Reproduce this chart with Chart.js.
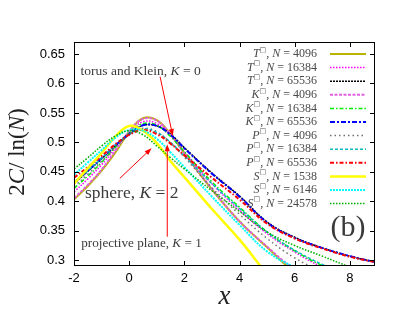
<!DOCTYPE html>
<html>
<head>
<meta charset="utf-8">
<script src="https://cdn.jsdelivr.net/npm/chart.js@4.4.1/dist/chart.umd.min.js"></script>
<style>
  html, body { margin: 0; padding: 0; background: #fff; }
  canvas { display: block; }
</style>
</head>
<body>
<canvas id="chart" width="407" height="310"></canvas>
<script>
// --- Data ---
const xValues = [-2, -1.5, -1, -0.5, 0, 0.5, 1, 1.5, 2, 3, 4, 5, 6, 7, 8, 9];
const xTicks = [-2, 0, 2, 4, 6, 8];
const yTicks = [0.3, 0.35, 0.4, 0.45, 0.5, 0.55, 0.6, 0.65];

// torus
const t4096  = [0.403, 0.426, 0.452, 0.483, 0.518, 0.541, 0.538, 0.514, 0.482, 0.420, 0.366, 0.322, 0.279, 0.248];
const t16384 = [0.416, 0.438, 0.462, 0.490, 0.517, 0.535, 0.532, 0.512, 0.484, 0.430, 0.385, 0.345, 0.314, 0.288, 0.268];
const t65536 = [0.430, 0.451, 0.472, 0.494, 0.514, 0.529, 0.528, 0.514, 0.491, 0.448, 0.409, 0.365, 0.339, 0.321, 0.307, 0.296];
// Klein bottle
const k4096  = [0.405, 0.428, 0.454, 0.486, 0.519, 0.540, 0.537, 0.513, 0.481, 0.421, 0.366, 0.323, 0.284, 0.255];
const k16384 = [0.422, 0.443, 0.466, 0.492, 0.516, 0.532, 0.529, 0.510, 0.484, 0.433, 0.390, 0.348, 0.316, 0.291, 0.272];
const k65536 = [0.432, 0.452, 0.473, 0.495, 0.514, 0.529, 0.528, 0.513, 0.490, 0.447, 0.408, 0.364, 0.338, 0.321, 0.307, 0.296];
// projective plane
const p4096  = [0.425, 0.446, 0.468, 0.492, 0.513, 0.524, 0.518, 0.499, 0.475, 0.423, 0.378, 0.337, 0.304, 0.280];
const p16384 = [0.432, 0.452, 0.473, 0.496, 0.514, 0.523, 0.517, 0.500, 0.477, 0.430, 0.388, 0.348, 0.317, 0.293, 0.273];
const p65536 = [0.440, 0.458, 0.477, 0.497, 0.513, 0.521, 0.514, 0.498, 0.478, 0.440, 0.403, 0.362, 0.337, 0.320, 0.306, 0.296];
// sphere
const s1538  = [0.430, 0.456, 0.482, 0.510, 0.528, 0.520, 0.499, 0.468, 0.441, 0.387, 0.335, 0.276, 0.220];
const s6146  = [0.445, 0.466, 0.487, 0.508, 0.521, 0.520, 0.506, 0.483, 0.458, 0.408, 0.360, 0.315, 0.288, 0.268];
const s24578 = [0.455, 0.474, 0.494, 0.511, 0.520, 0.513, 0.494, 0.474, 0.455, 0.418, 0.383, 0.348, 0.325, 0.307, 0.289, 0.275];

const seriesLetters = ['T', 'T', 'T', 'K', 'K', 'K', 'P', 'P', 'P', 'S', 'S', 'S'];
const seriesSizes = ['4096', '16384', '65536', '4096', '16384', '65536', '4096', '16384', '65536', '1538', '6146', '24578'];
const seriesValues = [t4096, t16384, t65536, k4096, k16384, k65536, p4096, p16384, p65536, s1538, s6146, s24578];

// line looks, same order as the series
const seriesStyles = [
    { color: '#b8b400', width: 2,   dash: [] },
    { color: '#ff00ff', width: 1.5, dash: [1.5, 1.5] },
    { color: '#000000', width: 1.5, dash: [2, 1] },
    { color: '#e060e0', width: 2,   dash: [3, 1.5] },
    { color: '#00ee00', width: 1.5, dash: [4, 2, 1.5, 2] },
    { color: '#0000ff', width: 2,   dash: [5, 2, 2, 2] },
    { color: '#707070', width: 1.5, dash: [1.5, 3] },
    { color: '#00b8c0', width: 1.5, dash: [3, 2] },
    { color: '#ff0000', width: 2,   dash: [4, 2, 1.5, 2] },
    { color: '#ffff00', width: 2.5, dash: [] },
    { color: '#00ffff', width: 2,   dash: [2, 1] },
    { color: '#00b000', width: 1.5, dash: [1.5, 1.5] }
];

// annotations, in data coordinates
const labelTorus = { x: -1.76, y: 0.620, from: [1.12, 0.6115], to: [1.58, 0.511] };
const labelSphere = { x: -1.60, y: 0.414, from: [-0.34, 0.439], to: [0.81, 0.490] };
const labelProjective = { x: -1.74, y: 0.329, from: [1.38, 0.340], to: [1.38, 0.497] };
const panelTag = { x: 7.93, y: 0.355 };

const SERIF = '"Liberation Serif", "DejaVu Serif", serif';
const SANS = '"Liberation Sans", Arial, sans-serif';

// --- Helpers ---
function rich(ctx, parts, x, y, align) {
    let total = 0;
    parts.forEach(p => { ctx.font = p.f; total += ctx.measureText(p.t).width; });
    let cx = align === 'right' ? x - total : (align === 'center' ? x - total / 2 : x);
    ctx.textAlign = 'left';
    parts.forEach(p => {
        ctx.font = p.f;
        ctx.fillText(p.t, cx, y + (p.dy || 0));
        cx += ctx.measureText(p.t).width;
    });
}

function mathLabel(word, size) {
    return [
        { t: word, f: `${size}px ${SERIF}` },
        { t: 'K', f: `italic ${size}px ${SERIF}` },
        { t: ' = ', f: `${size}px ${SERIF}` }
    ];
}

function arrow(ctx, x1, y1, x2, y2) {
    const ang = Math.atan2(y2 - y1, x2 - x1);
    const len = 7, half = 2.6;
    ctx.strokeStyle = '#ff0000';
    ctx.fillStyle = '#ff0000';
    ctx.lineWidth = 1;
    ctx.setLineDash([]);
    ctx.beginPath();
    ctx.moveTo(x1, y1);
    ctx.lineTo(x2 - Math.cos(ang) * len * 0.8, y2 - Math.sin(ang) * len * 0.8);
    ctx.stroke();
    ctx.beginPath();
    ctx.moveTo(x2, y2);
    ctx.lineTo(x2 - Math.cos(ang) * len - Math.sin(ang) * half, y2 - Math.sin(ang) * len + Math.cos(ang) * half);
    ctx.lineTo(x2 - Math.cos(ang) * len + Math.sin(ang) * half, y2 - Math.sin(ang) * len - Math.cos(ang) * half);
    ctx.closePath();
    ctx.fill();
}

// --- Frame, ticks, labels, legend ---
const overlay = {
    id: 'overlay',
    afterDatasetsDraw(chart) {
        const ctx = chart.ctx;
        const a = chart.chartArea;
        const xs = chart.scales.x, ys = chart.scales.y;
        ctx.save();

        // box and inward ticks on all four sides
        ctx.strokeStyle = '#000';
        ctx.lineWidth = 1;
        ctx.setLineDash([]);
        ctx.strokeRect(Math.round(a.left) + 0.5, Math.round(a.top) + 0.5, Math.round(a.right - a.left) - 1, Math.round(a.bottom - a.top) - 1);
        ctx.beginPath();
        xTicks.forEach(v => {
            const px = Math.round(xs.getPixelForValue(v)) + 0.5;
            ctx.moveTo(px, a.bottom); ctx.lineTo(px, a.bottom - 5);
            ctx.moveTo(px, a.top); ctx.lineTo(px, a.top + 5);
        });
        yTicks.forEach(v => {
            const py = Math.round(ys.getPixelForValue(v)) + 0.5;
            ctx.moveTo(a.left, py); ctx.lineTo(a.left + 5, py);
            ctx.moveTo(a.right, py); ctx.lineTo(a.right - 5, py);
        });
        ctx.stroke();

        // annotations
        ctx.fillStyle = '#3a3a3a';
        ctx.textBaseline = 'middle';
        rich(ctx, mathLabel('torus and Klein, ', 13.5).concat([{ t: '0', f: `13.5px ${SERIF}` }]),
            xs.getPixelForValue(labelTorus.x), ys.getPixelForValue(labelTorus.y), 'left');
        rich(ctx, mathLabel('sphere, ', 17.5).concat([{ t: '2', f: `17.5px ${SERIF}` }]),
            xs.getPixelForValue(labelSphere.x), ys.getPixelForValue(labelSphere.y), 'left');
        rich(ctx, mathLabel('projective plane, ', 13.2).concat([{ t: '1', f: `13.2px ${SERIF}` }]),
            xs.getPixelForValue(labelProjective.x), ys.getPixelForValue(labelProjective.y), 'left');
        ctx.font = `30px ${SERIF}`;
        ctx.textAlign = 'center';
        ctx.fillText('(b)', xs.getPixelForValue(panelTag.x), ys.getPixelForValue(panelTag.y));

        [labelTorus, labelSphere, labelProjective].forEach(l => {
            arrow(ctx, xs.getPixelForValue(l.from[0]), ys.getPixelForValue(l.from[1]),
                xs.getPixelForValue(l.to[0]), ys.getPixelForValue(l.to[1]));
        });

        // legend
        const rowTop = 54, rowStep = 13.6, textRight = 317, lineL = 330, lineR = 366;
        seriesLetters.forEach((letter, i) => {
            const y = rowTop + i * rowStep;
            ctx.fillStyle = '#4a4a4a';
            ctx.textBaseline = 'middle';
            rich(ctx, [
                { t: letter, f: `italic 12px ${SERIF}` },
                { t: '\u25A1', f: `7px "DejaVu Sans"`, dy: -4 },
                { t: ', ', f: `12px ${SERIF}` },
                { t: 'N', f: `italic 12px ${SERIF}` },
                { t: ' = ' + seriesSizes[i], f: `12px ${SERIF}` }
            ], textRight, y, 'right');
            const st = seriesStyles[i];
            ctx.strokeStyle = st.color;
            ctx.lineWidth = st.width;
            ctx.setLineDash(st.dash);
            ctx.beginPath();
            ctx.moveTo(lineL, y); ctx.lineTo(lineR, y);
            ctx.stroke();
        });
        ctx.setLineDash([]);

        // axis titles
        ctx.fillStyle = '#222';
        ctx.textBaseline = 'middle';
        rich(ctx, [{ t: 'x', f: `italic 27px ${SERIF}` }], (a.left + a.right) / 2, 297, 'center');
        ctx.translate(18, (a.top + a.bottom) / 2 - 2);
        ctx.rotate(-Math.PI / 2);
        rich(ctx, [
            { t: '2', f: `23px ${SERIF}` },
            { t: 'C', f: `italic 23px ${SERIF}` },
            { t: '/ ln(', f: `23px ${SERIF}` },
            { t: 'N', f: `italic 23px ${SERIF}` },
            { t: ')', f: `23px ${SERIF}` }
        ], 0, 0, 'center');
        ctx.restore();
    }
};

// --- Chart ---
const datasets = seriesValues.map((vals, i) => ({
    data: vals.map((v, j) => ({ x: xValues[j], y: v })),
    borderColor: seriesStyles[i].color,
    borderWidth: seriesStyles[i].width,
    borderDash: seriesStyles[i].dash,
    pointRadius: 0,
    fill: false,
    tension: 0.4,
    clip: 0,
    order: seriesValues.length - i
}));

const axisTicks = (pad) => ({
    padding: pad,
    color: '#000',
    font: { family: SANS, size: 13 },
    autoSkip: false,
    maxRotation: 0,
    callback: v => String(v)
});

new Chart(document.getElementById('chart').getContext('2d'), {
    type: 'line',
    data: { datasets },
    options: {
        responsive: false,
        animation: false,
        devicePixelRatio: 1,
        layout: { padding: { top: 42, right: 32, left: 0, bottom: 0 } },
        plugins: { legend: { display: false }, tooltip: { enabled: false } },
        scales: {
            x: {
                type: 'linear', min: -2, max: 8.91,
                afterFit: s => { s.height = 44; },
                afterBuildTicks: s => { s.ticks = xTicks.map(v => ({ value: v })); },
                grid: { display: false, drawTicks: false, tickLength: 0 },
                border: { display: false },
                ticks: axisTicks(5)
            },
            y: {
                type: 'linear', min: 0.2903, max: 0.6704,
                afterFit: s => { s.width = 74; },
                afterBuildTicks: s => { s.ticks = yTicks.map(v => ({ value: v })); },
                grid: { display: false, drawTicks: false, tickLength: 0 },
                border: { display: false },
                ticks: axisTicks(9)
            }
        }
    },
    plugins: [overlay]
});
</script>
</body>
</html>
